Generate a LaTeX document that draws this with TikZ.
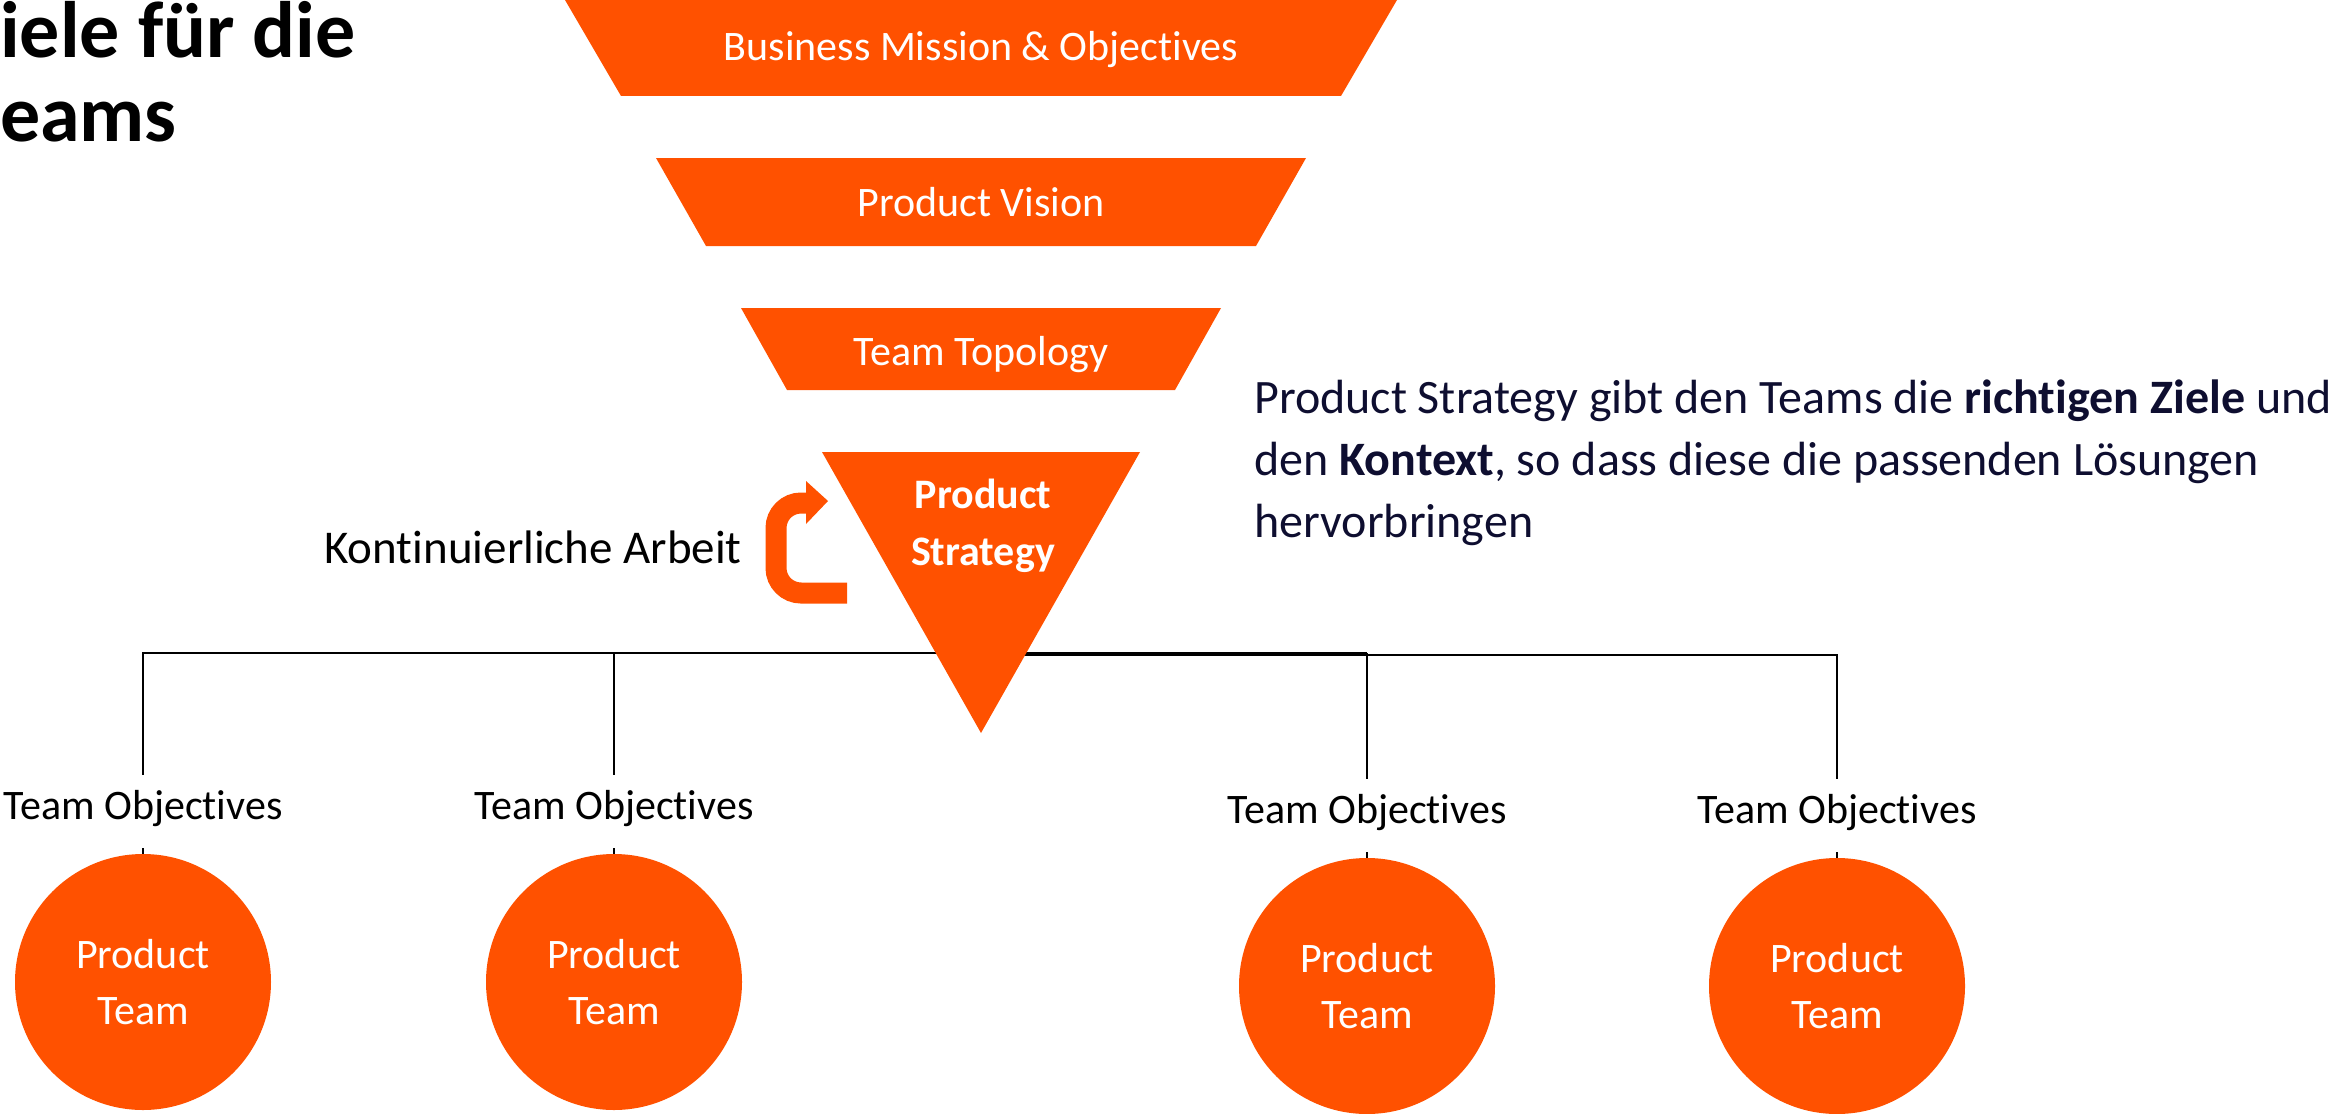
\documentclass[tikz,border=0pt]{standalone}
\usepackage{fontspec}
\setmainfont{Carlito}[RawFeature=-liga]
\definecolor{orangeP}{HTML}{FF5100}
\definecolor{navyT}{HTML}{0E0E30}
\begin{document}
\begin{tikzpicture}[x=1pt,y=-1pt,
  band/.style={fill=orangeP},
  wlabel/.style={text=white,font=\fontsize{42}{50}\selectfont,anchor=base,inner sep=0pt},
  conn/.style={line width=2.2pt,black},
  objlabel/.style={fill=white,inner sep=0pt,text height=44pt,text depth=29pt,anchor=base,font=\fontsize{42}{50}\selectfont},
  team/.style={circle,fill=orangeP,minimum size=256pt,inner sep=0pt,text=white,align=center,font=\fontsize{42}{56}\selectfont}
]
\useasboundingbox (0,0) rectangle (2333,1113);

% title (cut off at left)
\node[anchor=base west,inner sep=0pt,font=\bfseries\fontsize{80}{85}\selectfont] (title1) at (0,58) {iele für die};
\node[anchor=base west,inner sep=0pt,font=\bfseries\fontsize{80}{85}\selectfont] (title2) at (0,142) {eams};

% funnel
\fill[band] (565,0) -- (1397,0) -- (1341,96) -- (621,96) -- cycle;
\node[wlabel] (bm) at (981,61) {Business Mission \& Objectives};
\fill[band] (656,158) -- (1306,158) -- (1256,246) -- (706,246) -- cycle;
\node[wlabel] (pv) at (981,216) {Product Vision};
\fill[band] (741,308) -- (1221,308) -- (1175,390) -- (787,390) -- cycle;
\node[wlabel] (tt) at (981,365) {Team Topology};

% connectors
\coordinate (hubL) at (1367,653);
\coordinate (hubR) at (981,655);
\node[team] (t1) at (143,982) {Product\\Team};
\node[team] (t2) at (614,982) {Product\\Team};
\node[team] (t3) at (1367,986) {Product\\Team};
\node[team] (t4) at (1837,986) {Product\\Team};
\draw[conn] (hubL) -| (t1.north);
\draw[conn] (hubL) -| (t2.north);
\draw[conn] (hubL) -- (t3.north);
\draw[conn] (hubR) -| (t4.north);
\node[objlabel] (o1) at (143,819) {Team Objectives};
\node[objlabel] (o2) at (614,819) {Team Objectives};
\node[objlabel] (o3) at (1367,823) {Team Objectives};
\node[objlabel] (o4) at (1837,823) {Team Objectives};

% strategy triangle
\fill[band] (822,452) -- (1140,452) -- (981,733) -- cycle;
\node[wlabel,font=\bfseries\fontsize{42}{57}\selectfont,align=center] (ps) at (983,565) {Product\\Strategy};

% loop arrow
\draw[orangeP,line width=21pt,rounded corners=25pt] (847,593) -| (776,503) -- (807,503);
\fill[orangeP] (806,481) -- (828,501) -- (806,524) -- cycle;
\node[anchor=base east,inner sep=0pt,font=\fontsize{47}{50}\selectfont] (ka) at (742,563) {Kontinuierliche Arbeit};

% description
\node[anchor=base west,align=left,text=navyT,inner sep=0pt,font=\fontsize{48}{62}\selectfont] (desc) at (1254,537)
 {Product Strategy gibt den Teams die \textbf{richtigen Ziele} und\\den \textbf{Kontext}, so dass diese die passenden Lösungen\\hervorbringen};
\end{tikzpicture}
\end{document}
